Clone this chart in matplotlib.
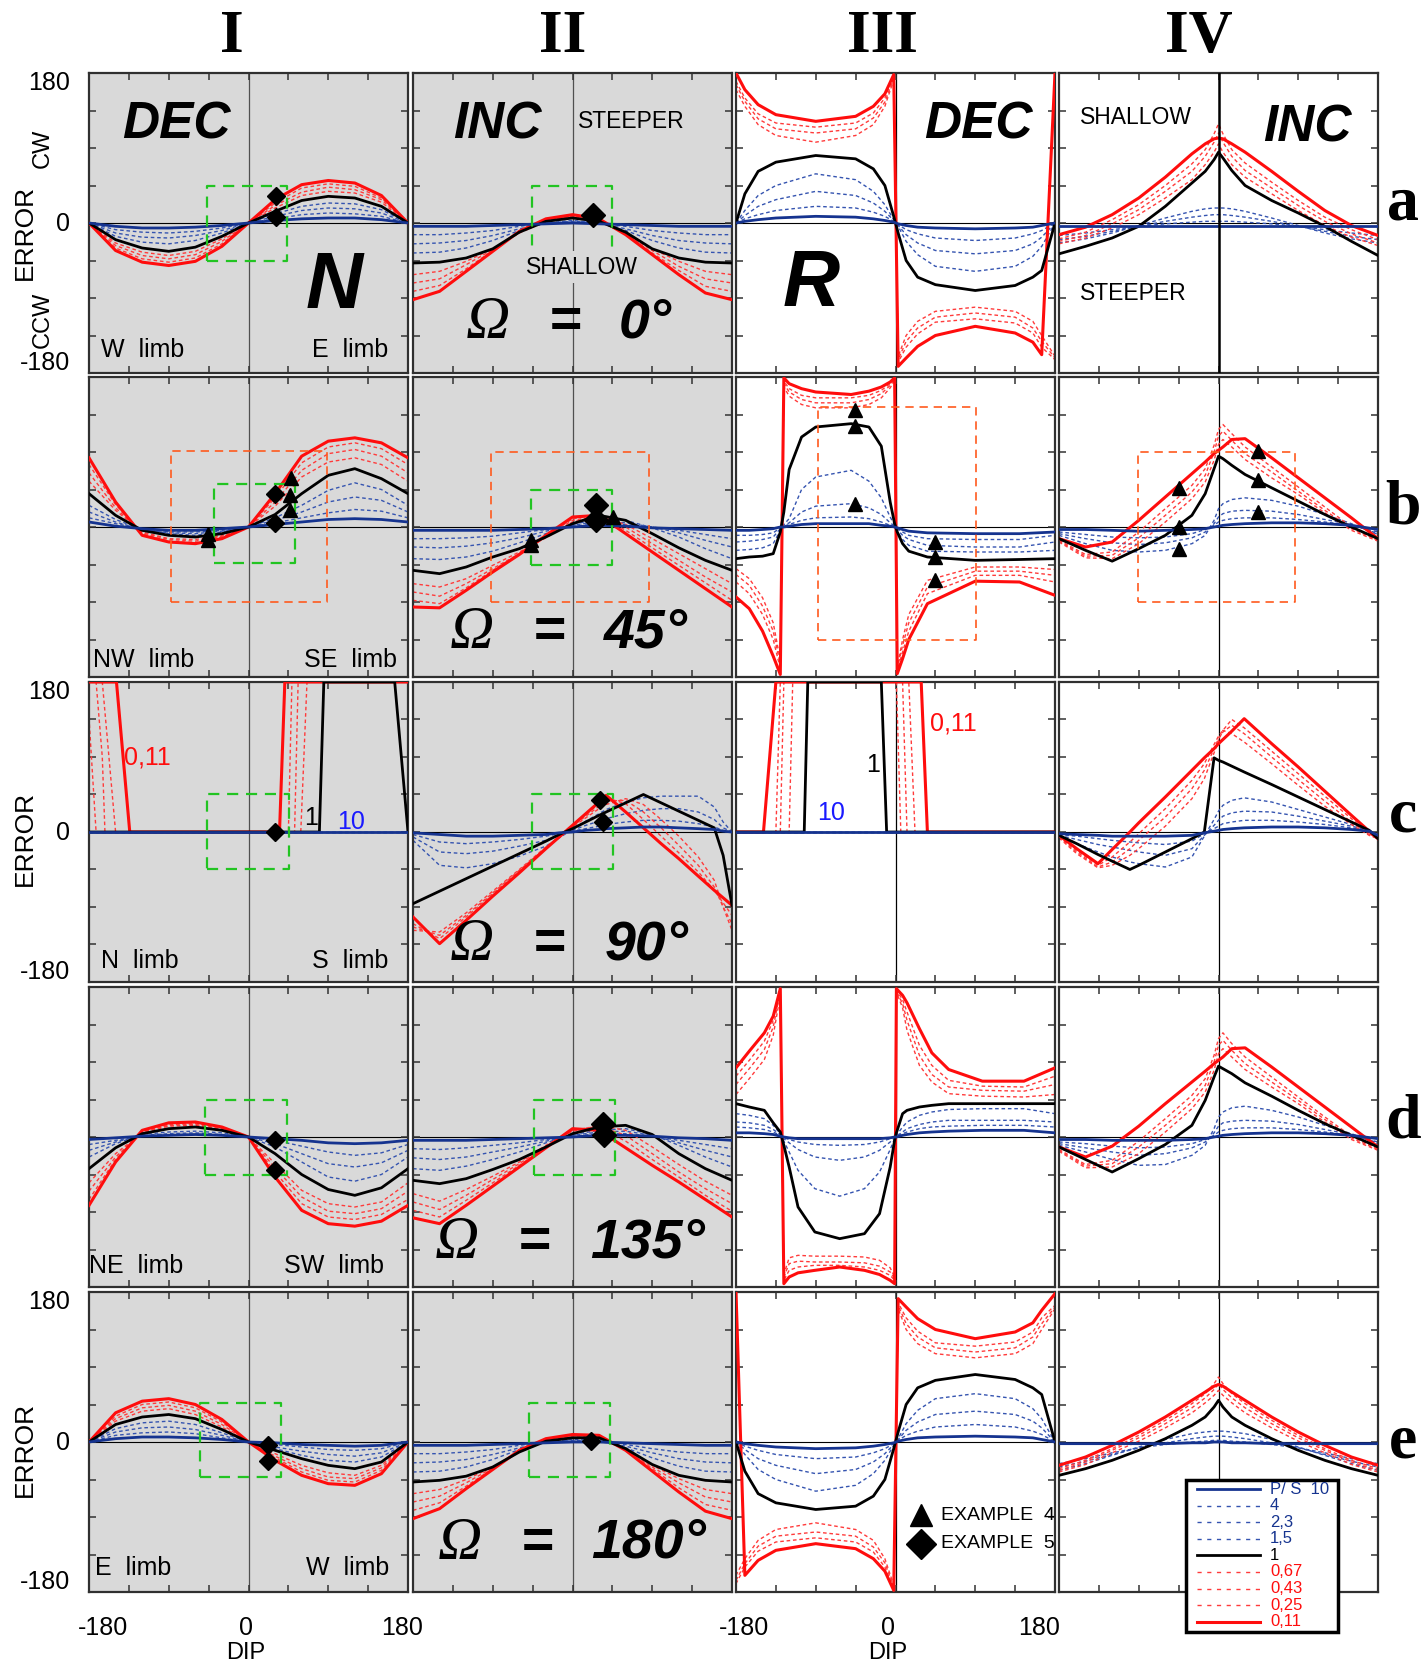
import matplotlib
matplotlib.use("Agg")
import matplotlib.pyplot as plt
from matplotlib.patches import Rectangle
from matplotlib.lines import Line2D

plt.rcParams['font.family'] = ['Liberation Sans', 'DejaVu Sans']

# ---- data (curve order: P/S 10, 4, 2.3, 1.5, 1, 0.67, 0.43, 0.25, 0.11)
LEGEND_LABELS = ['P/ S  10', '4', '2,3', '1,5', '1', '0,67', '0,43', '0,25', '0,11']

X13 = [-180, -150, -120, -90, -60, -30, 0, 30, 60, 90, 120, 150, 180]
G4 = [-180, -150, -120, -90, -60, -30, -15, -5, 0, 5, 15, 30, 60, 90, 120, 150, 180]
G3A = [-180, -170, -155, -135, -90, -45, -25, -12, -2, 3, 12, 25, 45, 90, 135, 155, 165, 180]
G3B = [-180, -165, -150, -138, -130, -126, -120, -106, -90, -50, -30, -16, -6, -1, 2, 8, 15, 36, 90, 140, 180]
GC1 = [-180, -172, -165, -162, -150, -149, -134, 35, 41, 45, 49, 52, 56, 59, 66, 80, 85, 165, 180]
GC2 = [-180, -150, -120, -90, -60, -30, -15, 0, 15, 30, 38, 60, 80, 100, 120, 142, 160, 170, 180]
G3C = [-180, -149, -135, -130, -126, -120, -116, -103, -99, -16, -10, 1, 6, 8, 13, 15, 22, 29, 36, 180]
G4C = [-180, -160, -136, -120, -100, -90, -60, -30, -16, -5, 0, 5, 15, 29, 60, 90, 120, 150, 170, 180]
G3D = [-180, -165, -148, -138, -130, -126, -120, -110, -91, -63, -35, -18, -6, -1, 1, 8, 13, 27, 41, 60, 98, 145, 180]

# row a  (omega = 0)
I_A = [
    [0, -4, -6, -6, -5, -3, 0, 3, 5, 6, 6, 4, 0],
    [0, -8, -11, -12, -10, -6, 0, 5, 10, 12, 11, 8, 0],
    [0, -12, -17, -18, -15, -9, 0, 8, 15, 18, 17, 12, 0],
    [0, -16, -23, -25, -21, -12, 0, 11, 20, 24, 23, 16, 0],
    [0, -20, -30, -34, -29, -16, 0, 14, 27, 32, 30, 20, 0],
    [0, -24, -35, -39, -34, -19, 0, 18, 33, 38, 36, 25, 0],
    [0, -27, -39, -43, -38, -22, 0, 21, 37, 43, 40, 28, 0],
    [0, -30, -43, -47, -42, -25, 0, 24, 42, 47, 44, 30, 0],
    [0, -33, -47, -51, -46, -28, 0, 28, 46, 51, 48, 33, 0],
]
II_A = [
    [-4, -4, -4, -3, -2, -1, 0, -1, -2, -3, -4, -4, -4],
    [-14, -14, -12, -9, -4, 0, 1, 0, -4, -9, -12, -14, -14],
    [-25, -24, -21, -15, -7, 0, 2, 0, -7, -15, -21, -24, -25],
    [-36, -35, -30, -21, -9, 0, 3, 0, -9, -21, -30, -35, -36],
    [-48, -47, -42, -31, -11, 2, 6, 2, -11, -31, -42, -47, -48],
    [-62, -58, -46, -31, -12, 2, 7, 2, -12, -31, -46, -58, -62],
    [-72, -67, -50, -32, -11, 3, 8, 3, -13, -33, -52, -67, -72],
    [-82, -75, -55, -33, -10, 4, 9, 4, -13, -36, -57, -76, -82],
    [-92, -82, -58, -34, -10, 5, 10, 5, -14, -38, -62, -84, -92],
]
III_A = [
    [0, 2, 4, 6, 8, 7, 5, 3, 1, -1, -3, -5, -6, -7, -6, -5, -3, 0],
    [0, 5, 10, 15, 20, 18, 13, 8, 2, -2, -8, -13, -18, -21, -18, -13, -9, 0],
    [0, 9, 20, 28, 38, 33, 24, 14, 3, -3, -14, -24, -33, -37, -33, -25, -17, 0],
    [0, 15, 33, 45, 59, 52, 38, 22, 4, -4, -22, -38, -52, -58, -52, -40, -28, 0],
    [0, 35, 62, 73, 81, 77, 65, 45, 8, -12, -45, -65, -74, -81, -75, -65, -57, 0],
    [160, 140, 118, 105, 97, 105, 118, 140, 172, -160, -135, -118, -106, -101, -106, -118, -135, -160],
    [166, 146, 125, 113, 108, 113, 126, 145, 174, -164, -142, -126, -113, -108, -113, -126, -142, -162],
    [170, 150, 131, 120, 115, 120, 132, 150, 176, -167, -149, -133, -119, -115, -120, -132, -149, -164],
    [180, 160, 142, 130, 122, 128, 140, 155, 178, -172, -162, -148, -135, -124, -132, -143, -158, 180],
]
IV_A = [
    [-4, -4, -4, -4, -4, -4, -4, -4, -4, -4, -4, -4, -4, -4, -4, -4, -4],
    [-15, -12, -8, -4, -1, 1, 2, 2, 2, 2, 2, 1, -1, -4, -8, -12, -15],
    [-20, -16, -10, -4, 2, 7, 9, 10, 10, 10, 9, 7, 2, -4, -10, -16, -20],
    [-24, -19, -12, -3, 6, 14, 17, 18, 18, 18, 17, 14, 6, -3, -12, -19, -24],
    [-37, -28, -18, -4, 20, 48, 62, 76, 85, 78, 63, 45, 27, 12, -4, -22, -39],
    [-25, -18, -6, 10, 30, 52, 70, 85, 95, 85, 70, 55, 35, 15, -3, -17, -27],
    [-22, -15, -1, 16, 38, 62, 80, 97, 108, 97, 80, 63, 42, 21, 2, -13, -24],
    [-19, -11, 4, 22, 45, 71, 88, 107, 119, 107, 88, 72, 49, 27, 7, -8, -20],
    [-14, -5, 10, 30, 55, 83, 95, 101, 102, 101, 95, 85, 62, 38, 15, -3, -15],
]

# row b  (omega = 45)
I_B = [
    [6, 1, -2, -4, -4, -2, 0, 3, 6, 9, 10, 9, 6],
    [11, 4, -2, -6, -6, -4, 0, 5, 11, 17, 21, 19, 11],
    [18, 6, -3, -7, -8, -5, 0, 8, 18, 30, 36, 32, 18],
    [26, 9, -3, -8, -10, -6, 0, 11, 26, 44, 53, 45, 26],
    [40, 14, -4, -10, -12, -8, 0, 15, 40, 62, 70, 58, 40],
    [55, 20, -6, -14, -15, -10, 0, 25, 60, 78, 83, 75, 55],
    [65, 23, -7, -15, -17, -11, 0, 30, 68, 88, 93, 85, 65],
    [75, 27, -8, -17, -19, -12, 0, 35, 77, 96, 101, 94, 75],
    [83, 30, -10, -18, -20, -14, 0, 40, 85, 103, 107, 101, 83],
]
II_B = [
    [-4, -4, -4, -4, -3, -2, 0, 2, 1, -1, -2, -3, -4],
    [-14, -14, -13, -11, -7, -3, 1, 4, 3, 0, -4, -9, -14],
    [-24, -25, -23, -19, -13, -5, 2, 7, 5, 0, -7, -16, -24],
    [-38, -39, -36, -29, -19, -8, 3, 10, 8, -1, -12, -26, -38],
    [-52, -56, -48, -36, -26, -12, 4, 14, 8, -8, -25, -40, -52],
    [-68, -72, -62, -46, -30, -13, 6, 13, 3, -14, -32, -50, -68],
    [-78, -83, -68, -50, -32, -12, 8, 13, 0, -20, -40, -60, -78],
    [-88, -92, -73, -52, -32, -11, 10, 14, -4, -25, -46, -67, -88],
    [-96, -97, -76, -54, -33, -10, 12, 14, -8, -30, -52, -74, -96],
]
III_B = [
    [-4, -4, -3, -2, 0, 0, 1, 3, 4, 4, 4, 2, 1, 0, -1, -3, -5, -7, -8, -8, -6],
    [-10, -10, -9, -7, -1, 1, 3, 8, 11, 12, 10, 6, 2, 0, -2, -6, -10, -14, -15, -15, -10],
    [-18, -17, -15, -12, -2, 2, 5, 18, 25, 28, 23, 15, 5, 1, -3, -10, -15, -22, -24, -24, -18],
    [-28, -27, -25, -20, -4, 3, 10, 45, 60, 68, 55, 35, 12, 2, -5, -15, -22, -29, -30, -30, -28],
    [-38, -36, -35, -32, -6, 18, 69, 108, 120, 124, 120, 97, 30, 4, -6, -20, -29, -36, -40, -39, -38],
    [-50, -62, -85, -115, -160, 168, 157, 147, 143, 143, 147, 155, 167, 176, -168, -135, -105, -64, -48, -48, -51],
    [-57, -70, -95, -125, -165, 172, 162, 153, 149, 149, 153, 160, 170, 177, -170, -142, -115, -72, -53, -53, -58],
    [-66, -80, -105, -135, -170, 175, 166, 158, 155, 155, 158, 164, 172, 178, -172, -150, -125, -80, -58, -58, -66],
    [-84, -98, -125, -155, -177, 179, 172, 166, 162, 159, 163, 168, 174, 179, -176, -158, -135, -92, -65, -66, -82],
]
IV_B = [
    [-3, -3, -4, -5, -4, -3, -2, 0, 1, 2, 3, 4, 5, 5, 4, 2, -3],
    [-6, -9, -12, -13, -12, -8, -3, 2, 6, 8, 10, 11, 11, 9, 6, 2, -6],
    [-8, -14, -19, -21, -19, -13, -6, 4, 12, 16, 19, 20, 19, 15, 9, 3, -8],
    [-10, -20, -28, -30, -28, -20, -10, 8, 22, 28, 33, 35, 32, 25, 15, 4, -9],
    [-14, -28, -41, -26, -10, 14, 40, 70, 85, 82, 74, 63, 47, 31, 15, 0, -14],
    [-18, -37, -38, -20, 6, 34, 54, 80, 99, 105, 96, 81, 59, 39, 17, -4, -17],
    [-17, -35, -34, -13, 14, 42, 62, 90, 109, 115, 104, 88, 66, 43, 20, -2, -16],
    [-16, -33, -30, -6, 22, 50, 70, 98, 117, 123, 112, 96, 72, 48, 24, 0, -15],
    [-14, -24, -18, 8, 36, 64, 78, 88, 92, 96, 105, 106, 83, 59, 35, 11, -14],
]

# row c  (omega = 90)
I_C = [
    [0] * 19, [0] * 19, [0] * 19, [0] * 19,
    [0, 0, 0, 0, 0, 0, 0, 0, 0, 0, 0, 0, 0, 0, 0, 0, 180, 180, 0],
    [137, 0, 0, 0, 0, 0, 0, 0, 0, 0, 0, 0, 0, 0, 180, 180, 180, 180, 180],
    [180, 180, 90, 0, 0, 0, 0, 0, 0, 0, 0, 0, 180, 180, 180, 180, 180, 180, 180],
    [180, 180, 180, 144, 0, 0, 0, 0, 0, 0, 180, 180, 180, 180, 180, 180, 180, 180, 180],
    [180, 180, 180, 180, 180, 180, 0, 0, 180, 180, 180, 180, 180, 180, 180, 180, 180, 180, 180],
]
II_C = [
    [-1, -3, -5, -5, -4, -3, -1, 0, 2, 3, 4, 5, 6, 6, 5, 4, 3, 1, 0],
    [-3, -12, -14, -12, -9, -5, -2, 1, 4, 7, 9, 12, 14, 14, 13, 10, 6, 2, 0],
    [-6, -24, -26, -23, -17, -10, -4, 2, 8, 13, 16, 22, 26, 28, 28, 24, 15, 5, 0],
    [-10, -40, -43, -38, -29, -17, -7, 3, 13, 22, 27, 36, 41, 43, 43, 43, 30, 12, 0],
    [-86, -71, -56, -41, -26, -11, -3, 4, 12, 20, 24, 35, 45, 35, 25, 14, 5, -28, -88],
    [-118, -120, -97, -71, -45, -18, -6, 6, 17, 28, 33, 40, 33, 15, -5, -30, -58, -90, -118],
    [-114, -124, -100, -73, -46, -19, -6, 7, 19, 31, 37, 38, 24, 5, -16, -40, -66, -90, -110],
    [-110, -128, -102, -74, -47, -19, -6, 8, 21, 34, 41, 34, 15, -5, -25, -48, -70, -85, -100],
    [-102, -134, -106, -77, -49, -20, -6, 8, 22, 36, 44, 24, 5, -14, -32, -53, -70, -79, -88],
]
III_C = [
    [0] * 20, [0] * 20, [0] * 20, [0] * 20,
    [0, 0, 0, 0, 0, 0, 0, 0, 180, 180, 0, 0, 0, 0, 0, 0, 0, 0, 0, 0],
    [0, 0, 0, 0, 0, 0, 180, 180, 180, 180, 180, 180, 0, 0, 0, 0, 0, 0, 0, 0],
    [0, 0, 0, 0, 180, 180, 180, 180, 180, 180, 180, 180, 180, 180, 0, 0, 0, 0, 0, 0],
    [0, 0, 0, 180, 180, 180, 180, 180, 180, 180, 180, 180, 180, 180, 180, 180, 0, 0, 0, 0],
    [0, 0, 180, 180, 180, 180, 180, 180, 180, 180, 180, 180, 180, 180, 180, 180, 180, 180, 0, 0],
]
IV_C = [
    [-2, -3, -4, -5, -5, -5, -5, -4, -1, 1, 2, 3, 4, 5, 6, 6, 5, 3, 1, -4],
    [-3, -5, -8, -10, -12, -13, -15, -11, -2, 4, 7, 10, 12, 14, 14, 12, 9, 5, 1, -6],
    [-4, -9, -15, -18, -22, -24, -28, -20, -4, 8, 14, 19, 23, 25, 24, 19, 13, 7, 2, -6],
    [-5, -14, -24, -30, -36, -38, -42, -30, -5, 15, 25, 32, 38, 41, 36, 27, 18, 9, 3, -6],
    [-4, -14, -27, -35, -45, -40, -24, -8, 0, 89, 86, 84, 79, 72, 57, 42, 27, 12, 2, -8],
    [-7, -26, -43, -40, -28, -20, 7, 40, 64, 95, 110, 122, 118, 108, 82, 56, 31, 9, -4, -8],
    [-6, -24, -42, -36, -20, -10, 18, 52, 74, 100, 112, 120, 128, 118, 90, 63, 37, 12, -3, -8],
    [-5, -22, -40, -30, -12, -2, 28, 62, 82, 105, 115, 122, 135, 125, 97, 70, 43, 16, -2, -8],
    [-4, -20, -38, -21, 0, 11, 42, 74, 89, 100, 106, 111, 121, 136, 106, 78, 49, 20, 1, -8],
]

# row d  (omega = 135)
I_D = [
    [-3, -1, 1, 2, 3, 2, 0, -2, -4, -7, -8, -7, -4],
    [-9, -4, 1, 3, 3, 2, 0, -4, -11, -18, -22, -19, -9],
    [-16, -6, 2, 4, 5, 3, 0, -8, -20, -32, -36, -31, -16],
    [-24, -8, 3, 6, 7, 5, 0, -12, -30, -48, -53, -45, -24],
    [-38, -13, 4, 10, 12, 8, 0, -20, -45, -63, -70, -61, -38],
    [-55, -20, 5, 13, 14, 9, 0, -32, -64, -80, -84, -78, -55],
    [-65, -24, 6, 14, 15, 10, 0, -37, -72, -89, -92, -86, -65],
    [-75, -27, 7, 15, 16, 11, 0, -42, -80, -96, -99, -93, -75],
    [-82, -30, 8, 17, 18, 12, 0, -48, -88, -104, -107, -101, -82],
]
II_D = [
    [-4, -4, -4, -3, -2, -1, 0, 2, 2, 1, -1, -2, -4],
    [-14, -15, -13, -10, -7, -3, 1, 4, 4, 1, -4, -9, -14],
    [-25, -27, -24, -18, -12, -5, 2, 6, 7, 2, -7, -16, -24],
    [-38, -40, -35, -27, -18, -7, 3, 8, 10, 3, -10, -24, -36],
    [-52, -56, -50, -39, -27, -12, 4, 12, 14, 3, -20, -38, -52],
    [-68, -77, -63, -47, -30, -10, 7, 14, 8, -12, -33, -53, -70],
    [-78, -87, -70, -51, -32, -11, 8, 13, 2, -20, -42, -62, -80],
    [-88, -96, -76, -55, -34, -12, 9, 11, -5, -27, -48, -70, -89],
    [-97, -104, -82, -59, -36, -13, 10, 8, -13, -34, -54, -75, -96],
]
III_D = [
    [5, 5, 4, 3, 1, 0, -1, -2, -2, -2, -2, -2, -1, 0, 0, 2, 3, 5, 6, 7, 8, 8, 5],
    [12, 11, 9, 6, 2, -1, -3, -6, -9, -10, -9, -6, -2, 0, 1, 4, 6, 10, 12, 13, 14, 14, 12],
    [18, 17, 14, 9, 3, -2, -7, -15, -24, -28, -24, -16, -6, -1, 1, 6, 10, 15, 18, 20, 20, 20, 18],
    [28, 26, 22, 14, 4, -5, -18, -40, -62, -71, -62, -42, -15, -2, 2, 12, 18, 26, 30, 33, 34, 34, 28],
    [40, 36, 32, 17, 6, -10, -36, -84, -114, -122, -116, -92, -36, -4, 5, 28, 32, 36, 38, 40, 40, 40, 40],
    [51, 70, 93, 122, 170, -165, -145, -142, -143, -143, -144, -148, -157, -168, 174, 155, 128, 86, 66, 52, 49, 48, 51],
    [63, 82, 105, 132, 174, -168, -152, -149, -150, -150, -151, -155, -162, -170, 175, 160, 140, 98, 75, 60, 56, 55, 63],
    [73, 92, 115, 140, 176, -172, -160, -156, -154, -154, -156, -160, -166, -172, 176, 165, 150, 110, 86, 68, 61, 60, 73],
    [83, 103, 125, 145, 178, -176, -168, -163, -160, -156, -160, -165, -172, -176, 178, 170, 161, 130, 101, 81, 67, 67, 83],
]
IV_D = [
    [-3, -3, -4, -4, -4, -3, -2, 0, 1, 2, 3, 4, 5, 5, 4, 2, -2],
    [-6, -8, -11, -13, -12, -8, -3, 2, 6, 8, 10, 11, 11, 9, 6, 2, -6],
    [-8, -13, -18, -22, -20, -13, -6, 5, 13, 17, 19, 20, 19, 15, 9, 3, -7],
    [-10, -18, -27, -34, -33, -22, -10, 10, 24, 30, 35, 37, 32, 24, 14, 4, -8],
    [-12, -27, -42, -26, -9, 14, 44, 72, 85, 82, 76, 65, 49, 32, 16, 2, -12],
    [-17, -37, -36, -20, 6, 34, 54, 80, 100, 106, 96, 81, 60, 40, 18, -3, -16],
    [-16, -35, -32, -12, 14, 42, 62, 90, 110, 116, 104, 88, 66, 44, 21, -1, -15],
    [-15, -33, -28, -5, 22, 50, 70, 98, 118, 125, 112, 96, 72, 48, 24, 1, -14],
    [-12, -24, -11, 13, 40, 66, 79, 88, 92, 96, 106, 107, 84, 60, 36, 12, -12],
]

# row e  (omega = 180)
I_E = [
    [0, 4, 6, 6, 5, 3, 0, -1, -3, -4, -5, -4, 0],
    [0, 8, 11, 12, 10, 5, 0, -3, -6, -9, -10, -8, 0],
    [0, 12, 17, 18, 15, 8, 0, -6, -11, -15, -17, -13, 0],
    [0, 16, 23, 25, 21, 11, 0, -8, -16, -22, -24, -18, 0],
    [0, 21, 30, 33, 28, 15, 0, -10, -20, -28, -32, -24, 0],
    [0, 25, 37, 40, 33, 18, 0, -14, -28, -37, -40, -28, 0],
    [0, 28, 41, 44, 37, 21, 0, -17, -32, -42, -44, -31, 0],
    [0, 31, 45, 48, 41, 24, 0, -19, -36, -46, -48, -34, 0],
    [0, 35, 49, 52, 45, 27, 0, -22, -40, -50, -52, -38, 0],
]
II_E = [
    [-4, -4, -4, -3, -2, -1, 0, 0, -1, -2, -3, -4, -4],
    [-14, -14, -12, -9, -4, 0, 1, 0, -3, -8, -12, -14, -14],
    [-25, -24, -21, -15, -7, 0, 2, 1, -5, -13, -20, -24, -25],
    [-36, -35, -30, -21, -9, 0, 3, 2, -7, -19, -29, -35, -36],
    [-48, -46, -41, -30, -12, 1, 5, 5, -8, -27, -40, -46, -48],
    [-62, -57, -45, -30, -12, 1, 6, 5, -9, -28, -44, -57, -62],
    [-72, -65, -49, -31, -11, 2, 7, 6, -9, -30, -49, -66, -72],
    [-82, -73, -53, -32, -10, 3, 8, 7, -9, -32, -55, -75, -82],
    [-92, -80, -56, -33, -10, 4, 9, 8, -10, -35, -60, -83, -92],
]
III_E = [
    [0, -2, -4, -6, -8, -7, -5, -3, -1, 1, 3, 5, 6, 7, 6, 5, 3, 0],
    [0, -5, -10, -15, -20, -18, -13, -8, -2, 2, 8, 13, 18, 21, 18, 13, 9, 0],
    [0, -9, -20, -28, -38, -33, -24, -14, -3, 3, 14, 24, 33, 37, 33, 25, 17, 0],
    [0, -15, -33, -45, -59, -52, -38, -22, -4, 4, 22, 38, 52, 58, 52, 40, 28, 0],
    [0, -35, -62, -73, -81, -77, -65, -45, -8, 12, 45, 65, 74, 81, 75, 65, 57, 0],
    [-160, -140, -118, -105, -97, -105, -118, -140, -172, 160, 135, 118, 106, 101, 106, 118, 135, 160],
    [-166, -146, -125, -113, -108, -113, -126, -145, -174, 164, 142, 126, 113, 108, 113, 126, 142, 162],
    [-170, -150, -131, -120, -115, -120, -132, -150, -176, 167, 149, 133, 119, 115, 120, 132, 149, 164],
    [180, -160, -142, -130, -122, -128, -140, -155, -178, 172, 162, 148, 135, 124, 132, 143, 158, 178],
]
IV_E = [
    [-2, -2, -2, -2, -2, -1, -1, 0, 0, 0, -1, -1, -2, -2, -2, -2, -2],
    [-26, -20, -13, -7, -3, 0, 1, 2, 2, 2, 1, 0, -3, -7, -13, -20, -26],
    [-30, -23, -15, -7, -1, 4, 6, 7, 7, 7, 6, 4, -1, -7, -15, -23, -30],
    [-34, -26, -16, -6, 3, 10, 12, 13, 13, 13, 12, 10, 3, -6, -16, -26, -34],
    [-40, -32, -22, -10, 4, 20, 30, 42, 50, 42, 30, 20, 4, -10, -22, -32, -40],
    [-36, -27, -13, 1, 17, 35, 47, 56, 62, 56, 47, 35, 17, 1, -13, -27, -36],
    [-34, -24, -10, 5, 22, 41, 53, 63, 70, 63, 53, 41, 22, 5, -10, -24, -34],
    [-32, -22, -8, 8, 26, 46, 58, 70, 78, 70, 58, 46, 26, 8, -8, -22, -32],
    [-28, -18, -4, 12, 30, 50, 60, 67, 69, 67, 60, 50, 30, 12, -4, -18, -28],
]

# example points (dip, error)
DIAMONDS = {
    (0, 0): [(31, 33), (31, 7)],
    (0, 1): [(23, 10)],
    (1, 0): [(30, 40), (30, 5)],
    (1, 1): [(27, 26), (26, 8)],
    (2, 0): [(30, 0)],
    (2, 1): [(31, 38), (34, 12)],
    (3, 0): [(30, -3), (30, -40)],
    (3, 1): [(34, 16), (36, 2)],
    (4, 0): [(22, -4), (22, -23)],
    (4, 1): [(21, 1)],
}
TRIANGLES = {
    (1, 0): [(48, 59), (47, 38), (47, 20), (-46, -8), (-46, -16)],
    (1, 1): [(-47, -16), (-47, -22), (46, 12)],
    (1, 2): [(-46, 141), (-46, 121), (-46, 28), (45, -18), (45, -36), (45, -64)],
    (1, 3): [(-45, 47), (-45, 0), (-45, -26), (45, 91), (45, 56), (45, 18)],
}
GREEN_BOXES = {
    (0, 0): (-47, 43, -46, 44), (0, 1): (-46, 45, -45, 45),
    (1, 0): (-39, 53, -43, 52), (1, 1): (-47, 45, -45, 45),
    (2, 0): (-47, 46, -45, 45), (2, 1): (-46, 46, -45, 45),
    (3, 0): (-49, 44, -45, 45), (3, 1): (-44, 48, -45, 45),
    (4, 0): (-55, 37, -42, 47), (4, 1): (-49, 42, -42, 47),
}
ORANGE_BOXES = {
    (1, 0): (-88, 89, -90, 91), (1, 1): (-92, 86, -90, 90),
    (1, 2): (-88, 91, -135, 144), (1, 3): (-91, 86, -90, 90),
}

PANELS = [
    [(X13, I_A), (X13, II_A), (G3A, III_A), (G4, IV_A)],
    [(X13, I_B), (X13, II_B), (G3B, III_B), (G4, IV_B)],
    [(GC1, I_C), (GC2, II_C), (G3C, III_C), (G4C, IV_C)],
    [(X13, I_D), (X13, II_D), (G3D, III_D), (G4, IV_D)],
    [(X13, I_E), (X13, II_E), (G3A, III_E), (G4, IV_E)],
]

# ---- styles / layout
NAVY = '#15338f'
BLUE_D = '#3554b0'
RED = '#ff0d0d'
RED_D = '#ff3b3b'
GRAY = '#d9d9d9'
DASH = (0, (2.6, 2.0))
STYLES = [
    (NAVY, 2.0, '-', 5), (BLUE_D, 1.0, DASH, 2), (BLUE_D, 1.0, DASH, 2), (BLUE_D, 1.0, DASH, 2),
    ('black', 2.0, '-', 4), (RED_D, 1.0, DASH, 2), (RED_D, 1.0, DASH, 2), (RED_D, 1.0, DASH, 2),
    (RED, 2.2, '-', 3),
]

W, H = 1426, 1664
COL_X = [89, 413, 736, 1059]
ROW_Y = [73, 377, 682, 987, 1292]
PW, PH = 319, 300

fig = plt.figure(figsize=(W / 100, H / 100), dpi=100)
fig.patch.set_facecolor('white')


def put(px, py, s, **kw):
    return fig.text(px / W, 1 - py / H, s, **kw)


def box(ax, b, color, lw):
    x0, x1, y0, y1 = b
    ax.plot([x0, x1, x1, x0, x0], [y0, y0, y1, y1, y0], color=color, lw=lw,
            ls=(0, (5, 3.5)), zorder=6)


axes = {}
for r in range(5):
    for c in range(4):
        left, top = COL_X[c], ROW_Y[r]
        ax = fig.add_axes([left / W, 1 - (top + PH) / H, PW / W, PH / H])
        axes[(r, c)] = ax
        ax.set_xlim(-180, 180)
        ax.set_ylim(-180, 180)
        ax.set_facecolor(GRAY if c < 2 else 'white')
        ax.set_xticks(range(-180, 181, 45))
        ax.set_yticks(range(-180, 181, 45))
        ax.tick_params(direction='in', length=5, width=1.1, top=True, right=True,
                       labelbottom=False, labelleft=False, colors='#333333')
        for sp in ax.spines.values():
            sp.set_linewidth(1.6)
            sp.set_color('#303030')
        ax.axhline(0, color='black', lw=0.8, zorder=1)
        if c == 3 and r == 0:
            ax.axvline(0, color='black', lw=1.8, zorder=7)
        else:
            ax.axvline(0, color='#505050' if c < 2 else 'black', lw=0.9, zorder=1)

        xs, curves = PANELS[r][c]
        for i, ys in enumerate(curves):
            col, lw, ls, z = STYLES[i]
            ax.plot(xs, ys, color=col, lw=lw, ls=ls, zorder=z, solid_joinstyle='round')

        if (r, c) in GREEN_BOXES:
            box(ax, GREEN_BOXES[(r, c)], '#22c422', 1.6)
        if (r, c) in ORANGE_BOXES:
            box(ax, ORANGE_BOXES[(r, c)], '#ff5a1e', 1.2)
        big = (r, c) in [(0, 1), (1, 1), (3, 1)]
        for (dx, dy) in DIAMONDS.get((r, c), []):
            ax.plot(dx, dy, marker='D', ms=12 if big else 9.5, color='black', zorder=9, clip_on=False)
        for (tx, ty) in TRIANGLES.get((r, c), []):
            ax.plot(tx, ty, marker='^', ms=10, color='black', zorder=9)

# ---- column / row headers
for x, s in zip([232, 563, 882, 1199], ['I', 'II', 'III', 'IV']):
    put(x, 37, s, family='Liberation Serif', fontweight='bold', fontsize=44, ha='center', va='center')
for y, s in zip([204, 509, 817, 1123, 1442], ['a', 'b', 'c', 'd', 'e']):
    put(1403, y, s, family='Liberation Serif', fontweight='bold', fontsize=46, ha='center', va='center')

# ---- y labels
for r in [0, 2, 4]:
    top = ROW_Y[r]
    put(70, top + 10, '180', fontsize=18, ha='right', va='center')
    put(70, top + 151, '0', fontsize=18, ha='right', va='center')
    put(70, top + 290, '-180', fontsize=18, ha='right', va='center')
put(25, 232, 'ERROR', fontsize=19, rotation=90, ha='center', va='center')
put(43, 148, 'CW', fontsize=17, rotation=90, ha='center', va='center')
put(43, 320, 'CCW', fontsize=17, rotation=90, ha='center', va='center')
put(25, 838, 'ERROR', fontsize=19, rotation=90, ha='center', va='center')
put(25, 1449, 'ERROR', fontsize=19, rotation=90, ha='center', va='center')

# ---- x labels
for xs_, x0 in [((103, 246, 402), 246), ((744, 888, 1039), 888)]:
    for x, s in zip(xs_, ['-180', '0', '180']):
        put(x, 1628, s, fontsize=18, ha='center', va='center')
    put(x0, 1653, 'DIP', fontsize=17, ha='center', va='center')

# ---- panel texts
BI = dict(fontweight='bold', fontstyle='italic', ha='center', va='center')
put(176, 125, 'DEC', fontsize=37, **BI)
put(497, 125, 'INC', fontsize=37, **BI)
put(978, 125, 'DEC', fontsize=37, **BI)
put(1307, 128, 'INC', fontsize=37, **BI)
put(334, 288, 'N', fontsize=57, **BI)
put(811, 285, 'R', fontsize=57, **BI)
put(631, 122, 'STEEPER', fontsize=16.5, ha='center', va='center')
put(582, 267, 'SHALLOW', fontsize=16.5, ha='center', va='center',
    bbox=dict(facecolor=GRAY, edgecolor='none', pad=3))
put(1136, 117, 'SHALLOW', fontsize=16.5, ha='center', va='center')
put(1133, 293, 'STEEPER', fontsize=16.5, ha='center', va='center')

LIMBS = [('W  limb', 'E  limb', 101, 388, 350), ('NW  limb', 'SE  limb', 93, 397, 660),
         ('N  limb', 'S  limb', 101, 388, 961), ('NE  limb', 'SW  limb', 89, 384, 1266),
         ('E  limb', 'W  limb', 95, 389, 1568)]
for a, b, xl, xr, y in LIMBS:
    put(xl, y, a, fontsize=18, ha='left', va='center')
    put(xr, y, b, fontsize=18, ha='right', va='center')

OMEGAS = [('0°', 488, 566, 645, 323), ('45°', 472, 550, 646, 633), ('90°', 472, 550, 647, 945),
          ('135°', 457, 535, 648, 1243), ('180°', 460, 538, 649, 1544)]
for s, xo, xe, xv, y in OMEGAS:
    put(xo, y, 'Ω', family='Liberation Serif', fontstyle='italic', fontsize=44, ha='center', va='center')
    put(xe, y, '=', fontweight='bold', fontsize=40, ha='center', va='center')
    put(xv, y, s, fontsize=40, **BI)

put(147, 758, '0,11', fontsize=18, color=RED, ha='center', va='center')
put(311, 818, '1', fontsize=18, color='black', ha='center', va='center')
put(351, 822, '10', fontsize=18, color='#1a1aff', ha='center', va='center')
put(953, 723, '0,11', fontsize=18, color=RED, ha='center', va='center')
put(873, 765, '1', fontsize=18, color='black', ha='center', va='center')
put(831, 813, '10', fontsize=18, color='#1a1aff', ha='center', va='center')

# ---- example markers (in panel III e, clipped by the panel)
ax3e = axes[(4, 2)]
ax3e.plot(29, -88, marker='^', ms=16, color='black', zorder=9)
ax3e.plot(29, -122, marker='D', ms=15, color='black', zorder=9)
ax3e.text(51, -88, 'EXAMPLE  4', fontsize=14, ha='left', va='center', clip_on=True, zorder=9)
ax3e.text(51, -122, 'EXAMPLE  5', fontsize=14, ha='left', va='center', clip_on=True, zorder=9)

# ---- legend box
fig.add_artist(Rectangle((1186 / W, 1 - 1632 / H), 152 / W, 152 / H, transform=fig.transFigure,
                         facecolor='white', edgecolor='black', lw=2.5, zorder=10))
LEG_COLORS = [NAVY] * 4 + ['black'] + [RED] * 4
for i, lab in enumerate(LEGEND_LABELS):
    y = 1 - (1489 + 16.6 * i) / H
    col, lw, ls, _ = STYLES[i]
    fig.add_artist(Line2D([1197 / W, 1260 / W], [y, y], transform=fig.transFigure,
                          color=col, lw=lw, ls=(0, (3, 4)) if ls != '-' else '-', zorder=11))
    fig.text(1270 / W, y, lab, fontsize=12, color=LEG_COLORS[i], ha='left', va='center', zorder=12)

fig.savefig('out.png', dpi=100)
